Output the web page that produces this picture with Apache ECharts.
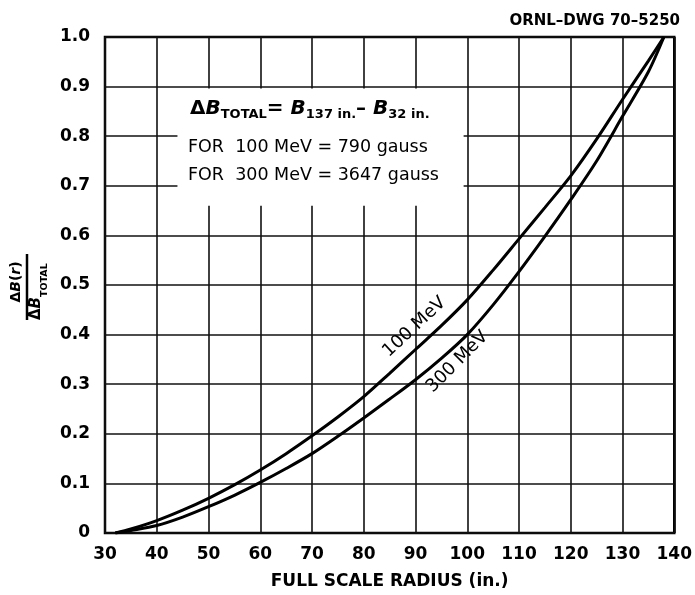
<!DOCTYPE html>
<html>
<head>
<meta charset="utf-8">
<script src="https://cdn.jsdelivr.net/npm/echarts@6/dist/echarts.min.js"></script>
<style>
html,body{margin:0;padding:0;background:#fff;}
#chart{width:695px;height:595px;}
</style>
</head>
<body>
<div id="chart"></div>
<script>
// ---- data ----
const radius = [32, 35, 40, 45, 50, 55, 60, 65, 70, 75, 80, 85, 90, 95, 100, 105, 110, 115, 120, 125, 130, 135, 138];
const mev100 = [0, 0.008, 0.025, 0.046, 0.07, 0.097, 0.127, 0.16, 0.196, 0.234, 0.275, 0.322, 0.37, 0.418, 0.47, 0.53, 0.593, 0.656, 0.72, 0.794, 0.874, 0.952, 1.0];
const mev300 = [0, 0.005, 0.015, 0.032, 0.053, 0.076, 0.102, 0.13, 0.16, 0.195, 0.232, 0.27, 0.309, 0.352, 0.4, 0.46, 0.527, 0.598, 0.672, 0.75, 0.84, 0.93, 1.0];
const seriesNames = ['100 MeV', '300 MeV'];
const xTickMin = 30, xTickMax = 140, xTickStep = 10;
const yTickMin = 0, yTickMax = 1.0, yTickStep = 0.1;
const drawingNo = 'ORNL\u2013DWG 70\u20135250';
const xTitle = 'FULL SCALE RADIUS (in.)';
const noteLines = ['FOR  100 MeV = 790 gauss', 'FOR  300 MeV = 3647 gauss'];

const FONT = '"DejaVu Sans", sans-serif';
const chart = echarts.init(document.getElementById('chart'), null, {renderer: 'canvas'});

function pairs(ys) { return radius.map((r, i) => [r, ys[i]]); }

const option = {
  backgroundColor: '#fff',
  animation: false,
  grid: {left: 105, right: 19, top: 37, bottom: 57, show: true, borderColor: '#000', borderWidth: 2.5, backgroundColor: 'transparent'},
  xAxis: {
    type: 'value', min: xTickMin, max: xTickMax, interval: xTickStep,
    axisLine: {show: false}, axisTick: {show: false},
    splitLine: {show: true, lineStyle: {color: '#111', width: 1.6}},
    axisLabel: {margin: 13, color: '#000', fontFamily: FONT, fontWeight: 'bold', fontSize: 17},
    name: xTitle, nameLocation: 'middle', nameGap: 40,
    nameTextStyle: {color: '#000', fontFamily: FONT, fontWeight: 'bold', fontSize: 17}
  },
  yAxis: {
    type: 'value', min: yTickMin, max: yTickMax, interval: yTickStep,
    axisLine: {show: false}, axisTick: {show: false},
    splitLine: {show: true, lineStyle: {color: '#111', width: 1.6}},
    axisLabel: {margin: 15, color: '#000', fontFamily: FONT, fontWeight: 'bold', fontSize: 17,
      formatter: v => (v === 0 ? '0' : v.toFixed(1))}
  },
  series: [
    {
      name: seriesNames[0], type: 'line', data: pairs(mev100), smooth: 0.3, showSymbol: false,
      lineStyle: {color: '#000', width: 3}, z: 5,
      markArea: {silent: true, itemStyle: {color: '#fff'}, data: [[{coord: [44, 0.66]}, {coord: [99.3, 0.896]}]]},
      markPoint: {symbol: 'circle', symbolSize: 0, silent: true,
        data: [{coord: [89.8, 0.415]}],
        label: {show: true, formatter: seriesNames[0], rotate: 43, color: '#000', fontFamily: FONT, fontSize: 18}}
    },
    {
      name: seriesNames[1], type: 'line', data: pairs(mev300), smooth: 0.3, showSymbol: false,
      lineStyle: {color: '#000', width: 3}, z: 5,
      markPoint: {symbol: 'circle', symbolSize: 0, silent: true,
        data: [{coord: [98.1, 0.345]}],
        label: {show: true, formatter: seriesNames[1], rotate: 45, color: '#000', fontFamily: FONT, fontSize: 18}}
    }
  ],
  graphic: [
    {type: 'text', right: 15, top: 14, z: 100,
      style: {text: drawingNo, fill: '#000', font: 'bold 15px ' + FONT}},
    {type: 'text', x: 190, y: 97, z: 100,
      style: {
        text: '{m|\u0394}{i|B}{s|TOTAL}{m|= }{i|B}{s|137 in.}{m|\u2013 }{i|B}{s|32 in.}',
        rich: {
          m: {fontFamily: FONT, fontWeight: 'bold', fontSize: 20, lineHeight: 24, fill: '#000'},
          i: {fontFamily: FONT, fontWeight: 'bold', fontStyle: 'italic', fontSize: 20, lineHeight: 24, fill: '#000'},
          s: {fontFamily: FONT, fontWeight: 'bold', fontSize: 13, lineHeight: 11, verticalAlign: 'bottom', fill: '#000'}
        }
      }},
    {type: 'text', x: 188, y: 147, z: 100,
      style: {text: noteLines[0], fill: '#000', font: '17.5px ' + FONT, verticalAlign: 'middle'}},
    {type: 'text', x: 188, y: 175, z: 100,
      style: {text: noteLines[1], fill: '#000', font: '17.5px ' + FONT, verticalAlign: 'middle'}},
    {type: 'group', x: 27, y: 287, rotation: Math.PI / 2, z: 100,
      children: [
        {type: 'line', shape: {x1: -33, y1: 0, x2: 33, y2: 0}, style: {stroke: '#000', lineWidth: 2.5}},
        {type: 'text', x: 5, y: -4,
          style: {text: '{d|\u0394}{b|B}{d|(}{b|r}{d|)}', align: 'center', verticalAlign: 'bottom',
            rich: {
              d: {fontFamily: FONT, fontWeight: 'bold', fontSize: 14, fill: '#000'},
              b: {fontFamily: FONT, fontWeight: 'bold', fontStyle: 'italic', fontSize: 14, fill: '#000'}
            }}},
        {type: 'text', x: -10, y: 2,
          style: {text: '{d|\u0394}{b|B}', align: 'right', verticalAlign: 'top',
            rich: {
              d: {fontFamily: FONT, fontWeight: 'bold', fontSize: 15, fill: '#000'},
              b: {fontFamily: FONT, fontWeight: 'bold', fontStyle: 'italic', fontSize: 15, fill: '#000'}
            }}},
        {type: 'text', x: -10, y: 13,
          style: {text: 'TOTAL', fill: '#000', font: 'bold 9.5px ' + FONT, align: 'left', verticalAlign: 'top'}}
      ]}
  ]
};
chart.setOption(option);
</script>
</body>
</html>
